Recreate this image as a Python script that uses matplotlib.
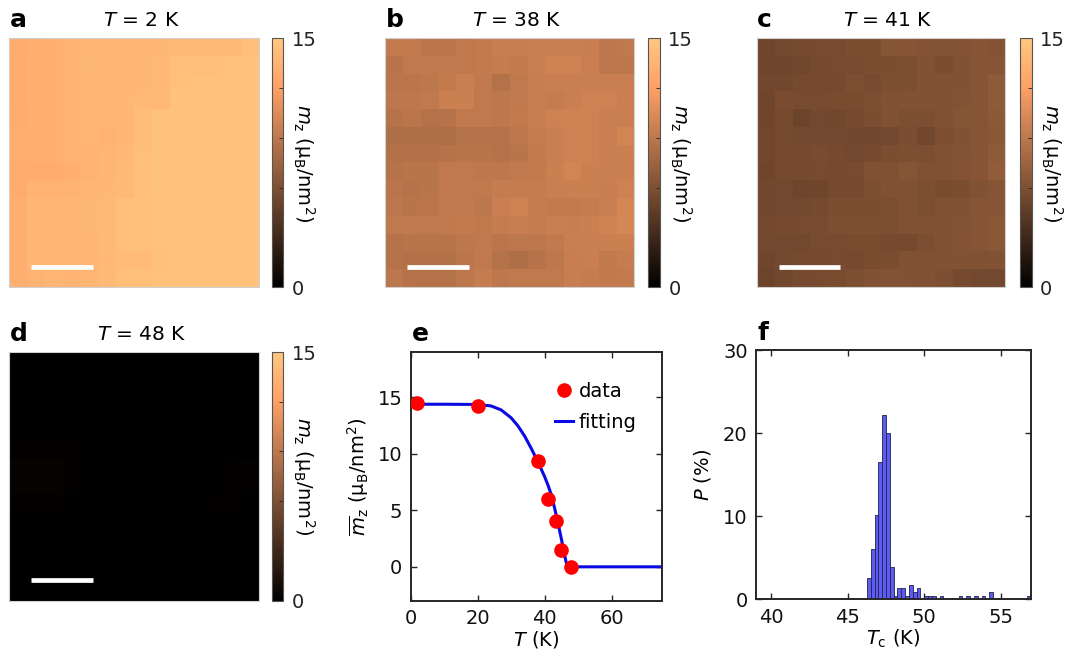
import numpy as np
import matplotlib
matplotlib.use("Agg")
import matplotlib.pyplot as plt

plt.rcParams['font.family'] = ['DejaVu Sans']
plt.rcParams['mathtext.fontset'] = 'dejavusans'

# ---------------- data ----------------
mz_2K = [
    [13.0, 13.2, 13.3, 13.5, 13.6, 13.6, 13.7, 13.7, 13.8, 13.9, 13.9, 13.9, 13.9, 14.4],
    [12.9, 13.2, 13.3, 13.5, 13.8, 13.7, 13.7, 13.8, 13.9, 14.3, 14.3, 14.3, 14.6, 14.6],
    [12.9, 13.2, 13.3, 13.5, 13.7, 13.7, 13.7, 13.8, 13.9, 14.5, 14.6, 14.6, 14.6, 14.6],
    [12.9, 13.2, 13.3, 13.5, 13.7, 13.7, 13.8, 13.9, 13.9, 14.6, 14.6, 14.6, 14.6, 14.6],
    [13.0, 13.2, 13.3, 13.4, 13.6, 13.6, 13.7, 14.2, 14.6, 14.6, 14.6, 14.6, 14.6, 14.6],
    [13.1, 13.2, 13.3, 13.5, 13.6, 13.4, 13.6, 14.2, 14.6, 14.6, 14.6, 14.6, 14.6, 14.6],
    [13.1, 13.2, 13.3, 13.4, 13.5, 13.6, 13.9, 14.3, 14.6, 14.6, 14.6, 14.6, 14.6, 14.6],
    [13.0, 13.0, 13.0, 13.3, 13.5, 13.7, 14.0, 14.3, 14.6, 14.6, 14.6, 14.6, 14.6, 14.6],
    [13.0, 13.4, 13.4, 13.5, 13.6, 13.8, 14.0, 14.4, 14.6, 14.6, 14.6, 14.6, 14.6, 14.6],
    [13.2, 13.6, 13.6, 13.7, 13.8, 14.0, 14.4, 14.5, 14.6, 14.6, 14.6, 14.6, 14.6, 14.6],
    [13.3, 13.6, 13.7, 13.7, 13.8, 14.0, 14.3, 14.5, 14.6, 14.6, 14.6, 14.6, 14.6, 14.6],
    [13.3, 13.6, 13.7, 13.7, 13.7, 14.0, 14.3, 14.5, 14.6, 14.6, 14.6, 14.6, 14.6, 14.6],
    [13.3, 13.6, 13.7, 13.6, 13.7, 13.9, 14.1, 14.1, 14.5, 14.6, 14.6, 14.6, 14.6, 14.6],
    [13.3, 13.5, 13.6, 13.5, 13.7, 14.0, 14.4, 14.5, 14.6, 14.6, 14.6, 14.6, 14.6, 14.6],
]

mz_38K = [
    [9.3, 9.3, 8.9, 8.9, 9.1, 9.3, 9.5, 9.5, 9.6, 9.6, 9.6, 9.5, 9.0, 9.1],
    [8.8, 9.1, 9.1, 9.2, 9.1, 9.3, 9.4, 9.3, 9.6, 9.9, 9.9, 9.6, 9.0, 9.0],
    [8.9, 8.9, 9.0, 9.3, 9.6, 9.2, 8.6, 9.1, 9.5, 9.6, 9.6, 9.6, 9.6, 9.6],
    [9.0, 9.0, 9.1, 9.7, 9.7, 9.1, 9.0, 9.2, 9.5, 9.4, 9.6, 9.8, 9.8, 9.6],
    [8.7, 8.9, 8.6, 8.7, 9.1, 9.1, 9.0, 9.3, 9.5, 9.8, 9.8, 9.8, 9.6, 9.6],
    [8.3, 8.3, 8.3, 8.3, 8.6, 8.6, 8.6, 9.0, 9.4, 9.6, 9.8, 9.8, 9.6, 10.0],
    [8.5, 8.5, 8.5, 8.7, 8.8, 8.8, 8.6, 8.8, 9.3, 9.6, 9.8, 9.8, 9.6, 9.7],
    [8.7, 8.8, 8.8, 9.1, 9.1, 9.0, 9.0, 9.1, 9.3, 9.7, 10.0, 9.7, 9.6, 9.6],
    [8.9, 8.7, 8.8, 9.1, 9.1, 9.1, 9.4, 9.4, 9.4, 9.6, 9.7, 9.7, 9.5, 9.8],
    [9.0, 8.8, 8.9, 9.2, 9.2, 9.0, 9.6, 9.8, 9.4, 9.3, 9.3, 9.4, 9.6, 10.1],
    [9.1, 9.2, 9.1, 9.2, 9.3, 9.1, 9.4, 9.5, 9.4, 9.6, 9.5, 9.7, 9.9, 10.2],
    [8.7, 8.8, 8.8, 8.8, 9.0, 9.1, 8.9, 9.0, 9.0, 9.2, 9.6, 9.6, 9.7, 9.7],
    [8.7, 8.5, 8.5, 8.5, 8.9, 9.1, 8.6, 8.3, 8.7, 9.0, 9.5, 9.6, 9.2, 9.4],
    [9.0, 8.7, 8.6, 8.6, 9.0, 9.4, 9.0, 9.1, 9.1, 9.1, 9.5, 9.4, 9.2, 9.3],
]

mz_41K = [
    [5.3, 5.5, 5.6, 5.7, 5.7, 5.9, 5.9, 6.4, 6.5, 6.3, 6.3, 6.3, 6.5, 6.3],
    [5.3, 5.3, 5.4, 5.6, 5.7, 5.7, 5.9, 5.9, 6.0, 6.2, 5.9, 6.1, 6.5, 6.4],
    [5.4, 5.4, 5.6, 5.6, 5.6, 6.0, 5.7, 6.0, 6.0, 6.2, 6.2, 6.2, 6.5, 6.8],
    [5.3, 5.8, 5.7, 5.7, 5.8, 5.8, 6.0, 6.1, 6.2, 6.2, 6.2, 6.3, 6.4, 6.8],
    [5.3, 5.6, 5.2, 5.5, 5.4, 5.6, 5.9, 6.1, 6.0, 6.0, 6.1, 6.4, 6.4, 6.7],
    [5.4, 5.6, 5.5, 5.5, 5.5, 5.4, 5.4, 5.5, 5.9, 5.4, 6.0, 6.2, 6.4, 6.6],
    [5.4, 5.6, 5.6, 5.8, 5.6, 5.5, 5.6, 5.9, 6.0, 6.0, 6.1, 6.3, 6.4, 6.8],
    [5.3, 5.6, 5.6, 5.7, 5.6, 5.7, 6.1, 6.1, 6.4, 6.1, 6.1, 6.3, 6.5, 7.0],
    [5.4, 5.5, 5.3, 5.3, 5.6, 5.6, 6.0, 6.1, 6.1, 6.0, 5.8, 5.9, 6.2, 6.5],
    [5.4, 5.5, 5.5, 5.6, 5.9, 5.9, 5.9, 6.0, 6.1, 6.0, 6.1, 6.2, 6.4, 6.5],
    [5.5, 5.6, 5.7, 5.7, 6.0, 6.0, 6.0, 6.0, 6.1, 6.1, 6.2, 6.3, 6.4, 6.6],
    [5.5, 5.5, 5.5, 5.7, 5.7, 5.8, 5.8, 5.6, 5.6, 6.0, 6.2, 6.3, 6.5, 6.6],
    [5.3, 5.5, 5.6, 5.6, 5.7, 5.6, 5.8, 5.9, 6.1, 6.1, 6.2, 6.2, 6.1, 6.2],
    [5.2, 5.4, 5.6, 5.7, 5.8, 6.0, 6.2, 6.3, 6.2, 6.1, 6.0, 5.6, 5.5, 5.5],
]

mz_48K = [
    [0, 0, 0, 0, 0, 0, 0, 0, 0, 0, 0, 0, 0, 0],
    [0, 0, 0, 0, 0, 0, 0, 0, 0, 0, 0, 0, 0, 0],
    [0, 0, 0, 0, 0, 0, 0, 0, 0, 0, 0, 0, 0, 0],
    [0, 0, 0, 0, 0, 0, 0, 0, 0, 0, 0, 0, 0, 0],
    [0, 0, 0, 0, 0, 0, 0, 0, 0, 0, 0, 0, 0, 0.10],
    [0.12, 0.12, 0.12, 0.12, 0, 0, 0, 0, 0, 0, 0, 0, 0.08, 0.10],
    [0.25, 0.25, 0.25, 0.12, 0, 0, 0, 0, 0, 0, 0, 0, 0.12, 0.20],
    [0.25, 0.25, 0.25, 0.12, 0, 0, 0, 0, 0, 0, 0, 0, 0.12, 0.15],
    [0.15, 0.15, 0.15, 0.08, 0, 0, 0, 0, 0, 0, 0, 0.12, 0.12, 0.10],
    [0.05, 0, 0, 0, 0, 0, 0, 0, 0, 0, 0, 0, 0.08, 0.08],
    [0.05, 0, 0.10, 0.10, 0.10, 0, 0, 0, 0, 0, 0, 0, 0, 0],
    [0, 0, 0, 0, 0, 0, 0, 0, 0, 0, 0, 0, 0, 0],
    [0, 0, 0, 0, 0, 0, 0, 0, 0, 0, 0, 0, 0, 0],
    [0, 0, 0, 0, 0, 0, 0, 0, 0, 0, 0, 0, 0, 0],
]

map_temps = ['2', '38', '41', '48']
panel_letters = ['a', 'b', 'c', 'd', 'e', 'f']

# panel e
T_data = [2, 20, 38, 41, 43.5, 44.8, 48]
m_data = [14.55, 14.25, 9.4, 6.0, 4.05, 1.45, -0.05]
T_fit = [0, 10, 20, 24, 27, 30, 32, 34, 36, 38, 39, 40, 41, 42, 43, 44, 45, 46, 46.5, 47, 60, 75]
m_fit = [14.4, 14.4, 14.38, 14.25, 13.9, 13.2, 12.5, 11.6, 10.5, 9.3, 8.65, 8.0, 7.25, 6.4,
         5.2, 3.9, 2.5, 1.0, 0.35, 0.0, 0.0, 0.0]

# panel f
Tc_bin_left = [46.25, 46.5, 46.75, 47.0, 47.25, 47.5, 47.75, 48.0, 48.25, 48.5, 48.75,
               49.0, 49.25, 49.5, 50.0, 50.25, 50.5, 51.0, 52.25, 52.75, 53.25, 53.75,
               54.25, 54.75, 56.75]
P_percent = [2.6, 6.1, 10.2, 16.5, 22.2, 20.0, 3.9, 0.4, 1.3, 1.3, 0.4,
             1.7, 0.9, 1.3, 0.4, 0.4, 0.4, 0.4, 0.4, 0.4, 0.4, 0.4,
             0.9, 0.15, 0.4]

# ---------------- figure ----------------
W, H = 1072, 660
fig = plt.figure(figsize=(W / 100, H / 100), dpi=100)

def ax_px(x0, y0, x1, y1):
    return fig.add_axes([x0 / W, 1 - y1 / H, (x1 - x0) / W, (y1 - y0) / H])

FS = 14
SPINE = '#262626'

maps = [mz_2K, mz_38K, mz_41K, mz_48K]
img_boxes = [(9.3, 38.3, 258.7, 287.3), (385.0, 38.3, 634.3, 287.3),
             (756.7, 38.3, 1005.0, 287.3), (9.3, 352.0, 258.7, 600.7)]
cb_boxes = [(271.7, 38.3, 283.3, 287.3), (648.3, 38.3, 660.0, 287.3),
            (1020.0, 38.3, 1031.7, 287.3), (271.7, 352.0, 283.3, 600.7)]

for i in range(4):
    x0, y0, x1, y1 = img_boxes[i]
    ax = ax_px(x0, y0, x1, y1)
    im = ax.imshow(np.array(maps[i]), cmap='copper', vmin=0, vmax=15,
                   aspect='auto', interpolation='nearest')
    ax.set_xticks([]); ax.set_yticks([])
    for s in ax.spines.values():
        s.set_edgecolor('#d0d0d0'); s.set_linewidth(0.8)
    # scale bar
    ax.plot([0.088, 0.337], [0.083, 0.083], transform=ax.transAxes,
            color='white', lw=3.4, solid_capstyle='butt')
    # title and panel letter
    ax.text(0.53, 1.07, r'$T$ = ' + map_temps[i] + ' K', transform=ax.transAxes,
            ha='center', va='center', fontsize=14.5)
    fig.text((x0 + 0.5) / W, 1 - (y0 - 18) / H, panel_letters[i], fontsize=18,
             fontweight='bold', ha='left', va='center')
    # colorbar
    cx0, cy0, cx1, cy1 = cb_boxes[i]
    cax = ax_px(cx0, cy0, cx1, cy1)
    cb = fig.colorbar(im, cax=cax)
    cb.set_ticks([0, 3, 6, 9, 12, 15])
    cb.set_ticklabels(['0', '', '', '', '', '15'])
    cax.tick_params(direction='in', length=3, width=0.6, labelsize=FS, pad=6,
                    colors='#222222')
    cb.outline.set_edgecolor('#555555'); cb.outline.set_linewidth(0.8)
    cax.text(2.75, 0.5, r'$m_\mathrm{z}$ (μ$_\mathrm{B}$/nm$^2$)', transform=cax.transAxes,
             rotation=270, ha='center', va='center', fontsize=FS)

def style_box(ax):
    for s in ax.spines.values():
        s.set_edgecolor(SPINE); s.set_linewidth(1.4)
    ax.tick_params(direction='in', length=4, width=1.0, labelsize=FS,
                   top=True, right=True, colors=SPINE, labelcolor='#111111', pad=6)

# panel e
axe = ax_px(410.7, 352.3, 661.7, 600.7)
axe.plot(T_fit, m_fit, color='#0a0ae6', lw=2.2, label='fitting', zorder=2)
axe.plot(T_data, m_data, 'o', color='#ff0000', ms=9.5, mec='#ff0000', label='data', zorder=3)
axe.set_xlim(0, 75); axe.set_ylim(-3, 19)
axe.set_xticks([0, 20, 40, 60]); axe.set_yticks([0, 5, 10, 15])
style_box(axe)
axe.set_xlabel(r'$T$ (K)', fontsize=FS, labelpad=1)
axe.set_ylabel(r'$\overline{m}_\mathrm{z}$ (μ$_\mathrm{B}$/nm$^2$)', fontsize=FS, labelpad=5)
h, l = axe.get_legend_handles_labels()
axe.legend([h[1], h[0]], [l[1], l[0]], loc='upper right', frameon=False, fontsize=FS,
           handlelength=0.9, handletextpad=0.3, labelspacing=0.6,
           bbox_to_anchor=(0.97, 0.95))
fig.text(412 / W, 1 - 334 / H, panel_letters[4], fontsize=18, fontweight='bold',
         ha='left', va='center')

# panel f
axf = ax_px(756.0, 350.0, 1031.3, 599.3)
axf.bar(Tc_bin_left, P_percent, width=0.25, align='edge', color='#5c5cf2',
        edgecolor='#22224a', linewidth=0.6)
axf.set_xlim(39, 57); axf.set_ylim(0, 30)
axf.set_xticks([40, 45, 50, 55]); axf.set_yticks([0, 10, 20, 30])
style_box(axf)
axf.set_xlabel(r'$T_\mathrm{c}$ (K)', fontsize=FS, labelpad=1)
axf.set_ylabel(r'$P$ (%)', fontsize=FS, labelpad=7)
fig.text(757 / W, 1 - 333 / H, panel_letters[5], fontsize=18, fontweight='bold',
         ha='left', va='center')

fig.savefig('out.png', dpi=100, facecolor='white')
